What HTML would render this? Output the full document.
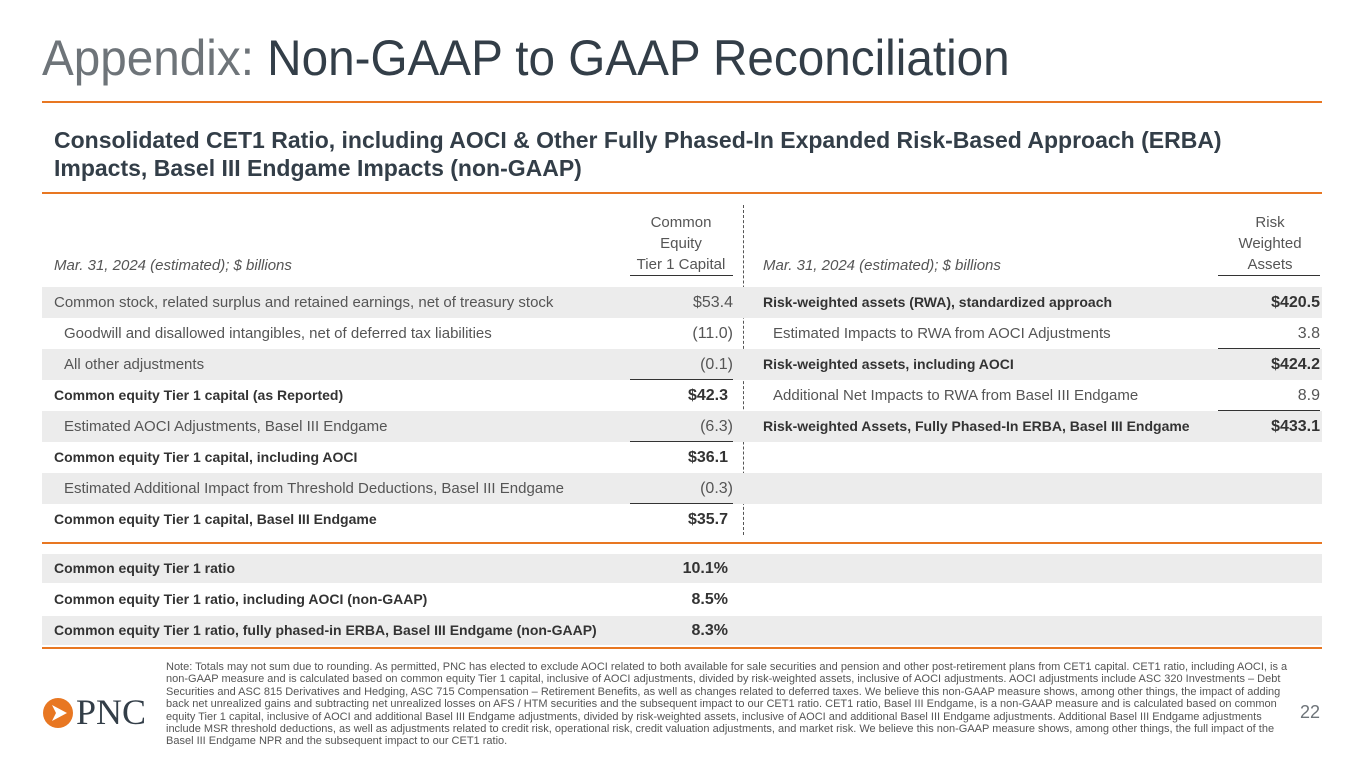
<!DOCTYPE html>
<html><head><meta charset="utf-8">
<style>
body{margin:0;width:1365px;height:768px;background:#fff;position:relative;overflow:hidden;font-family:"Liberation Sans",sans-serif;color:#555}
.a{position:absolute;white-space:nowrap}
.ol{position:absolute;left:42px;width:1280px;height:2px;background:#e87722}
.band{position:absolute;left:42px;width:1280px;height:31px;background:#ececec}
.row{position:absolute;height:31px;line-height:31px;font-size:15px}
.b{font-weight:bold;color:#333}
.row.b{font-size:14px}
.v{position:absolute;text-align:right;height:31px;line-height:31px;font-size:16px}
.rule{position:absolute;height:1px;background:#333}
</style></head><body>
<div class="a" style="left:42px;top:28px;font-size:50px;line-height:60px;color:#6e7479;transform:scaleX(0.953);transform-origin:left">Appendix: <span style="color:#333e48">Non-GAAP to GAAP Reconciliation</span></div>
<div class="ol" style="top:101px"></div>
<div class="a b" style="left:54px;top:126px;font-size:23px;line-height:28px;color:#333e48">Consolidated CET1 Ratio, including AOCI &amp; Other Fully Phased-In Expanded Risk-Based Approach (ERBA)<br>Impacts, Basel III Endgame Impacts (non-GAAP)</div>
<div class="ol" style="top:192px"></div>

<div class="a" style="left:54px;top:257px;font-size:15px;font-style:italic">Mar. 31, 2024 (estimated); $ billions</div>
<div class="a" style="left:620px;width:122px;top:212px;font-size:15px;line-height:21px;text-align:center">Common<br>Equity<br>Tier 1 Capital</div>
<div class="rule" style="left:630px;width:103px;top:275px"></div>
<div class="a" style="left:763px;top:257px;font-size:15px;font-style:italic">Mar. 31, 2024 (estimated); $ billions</div>
<div class="a" style="left:1210px;width:120px;top:212px;font-size:15px;line-height:21px;text-align:center">Risk<br>Weighted<br>Assets</div>
<div class="rule" style="left:1218px;width:102px;top:275px"></div>
<div class="a" style="left:743px;top:205px;height:330px;border-left:1px dashed #555"></div>

<div class="band" style="top:287px"></div>
<div class="band" style="top:349px"></div>
<div class="band" style="top:411px"></div>
<div class="band" style="top:473px"></div>

<div class="row" style="left:54px;top:287px">Common stock, related surplus and retained earnings, net of treasury stock</div>
<div class="v" style="left:620px;width:113px;top:287px">$53.4</div>
<div class="row" style="left:64px;top:318px">Goodwill and disallowed intangibles, net of deferred tax liabilities</div>
<div class="v" style="left:620px;width:113px;top:318px">(11.0)</div>
<div class="row" style="left:64px;top:349px">All other adjustments</div>
<div class="v" style="left:620px;width:113px;top:349px">(0.1)</div>
<div class="rule" style="left:630px;width:103px;top:379px"></div>
<div class="row b" style="left:54px;top:380px">Common equity Tier 1 capital (as Reported)</div>
<div class="v b" style="left:620px;width:108px;top:380px">$42.3</div>
<div class="row" style="left:64px;top:411px">Estimated AOCI Adjustments, Basel III Endgame</div>
<div class="v" style="left:620px;width:113px;top:411px">(6.3)</div>
<div class="rule" style="left:630px;width:103px;top:441px"></div>
<div class="row b" style="left:54px;top:442px">Common equity Tier 1 capital, including AOCI</div>
<div class="v b" style="left:620px;width:108px;top:442px">$36.1</div>
<div class="row" style="left:64px;top:473px">Estimated Additional Impact from Threshold Deductions, Basel III Endgame</div>
<div class="v" style="left:620px;width:113px;top:473px">(0.3)</div>
<div class="rule" style="left:630px;width:103px;top:503px"></div>
<div class="row b" style="left:54px;top:504px">Common equity Tier 1 capital, Basel III Endgame</div>
<div class="v b" style="left:620px;width:108px;top:504px">$35.7</div>

<div class="row b" style="left:763px;top:287px">Risk-weighted assets (RWA), standardized approach</div>
<div class="v b" style="left:1200px;width:120px;top:287px">$420.5</div>
<div class="row" style="left:773px;top:318px">Estimated Impacts to RWA from AOCI Adjustments</div>
<div class="v" style="left:1200px;width:120px;top:318px">3.8</div>
<div class="rule" style="left:1218px;width:102px;top:348px"></div>
<div class="row b" style="left:763px;top:349px">Risk-weighted assets, including AOCI</div>
<div class="v b" style="left:1200px;width:120px;top:349px">$424.2</div>
<div class="row" style="left:773px;top:380px">Additional Net Impacts to RWA from Basel III Endgame</div>
<div class="v" style="left:1200px;width:120px;top:380px">8.9</div>
<div class="rule" style="left:1218px;width:102px;top:410px"></div>
<div class="row b" style="left:763px;top:411px">Risk-weighted Assets, Fully Phased-In ERBA, Basel III Endgame</div>
<div class="v b" style="left:1200px;width:120px;top:411px">$433.1</div>

<div class="ol" style="top:542px"></div>
<div class="band" style="top:554px;height:29px"></div>
<div class="band" style="top:616px;height:29px"></div>
<div class="row b" style="left:54px;top:553px">Common equity Tier 1 ratio</div>
<div class="v b" style="left:620px;width:108px;top:553px">10.1%</div>
<div class="row b" style="left:54px;top:584px">Common equity Tier 1 ratio, including AOCI (non-GAAP)</div>
<div class="v b" style="left:620px;width:108px;top:584px">8.5%</div>
<div class="row b" style="left:54px;top:615px">Common equity Tier 1 ratio, fully phased-in ERBA, Basel III Endgame (non-GAAP)</div>
<div class="v b" style="left:620px;width:108px;top:615px">8.3%</div>
<div class="ol" style="top:647px"></div>

<svg class="a" style="left:42px;top:697px" width="32" height="32" viewBox="0 0 32 32"><circle cx="16" cy="16" r="15" fill="#e87722"/><path d="M10 8 L25 16 L10 24 L14 16Z" fill="#fff"/></svg>
<div class="a" style="left:76px;top:692px;font-family:'Liberation Serif',serif;font-size:36px;line-height:40px;color:#333e48">PNC</div>
<div class="a" style="left:166px;top:661px;width:1125px;white-space:normal;font-size:11px;line-height:12.4px;color:#555">Note: Totals may not sum due to rounding. As permitted, PNC has elected to exclude AOCI related to both available for sale securities and pension and other post-retirement plans from CET1 capital. CET1 ratio, including AOCI, is a non-GAAP measure and is calculated based on common equity Tier 1 capital, inclusive of AOCI adjustments, divided by risk-weighted assets, inclusive of AOCI adjustments. AOCI adjustments include ASC 320 Investments – Debt Securities and ASC 815 Derivatives and Hedging, ASC 715 Compensation – Retirement Benefits, as well as changes related to deferred taxes. We believe this non-GAAP measure shows, among other things, the impact of adding back net unrealized gains and subtracting net unrealized losses on AFS / HTM securities and the subsequent impact to our CET1 ratio. CET1 ratio, Basel III Endgame, is a non-GAAP measure and is calculated based on common equity Tier 1 capital, inclusive of AOCI and additional Basel III Endgame adjustments, divided by risk-weighted assets, inclusive of AOCI and additional Basel III Endgame adjustments. Additional Basel III Endgame adjustments include MSR threshold deductions, as well as adjustments related to credit risk, operational risk, credit valuation adjustments, and market risk. We believe this non-GAAP measure shows, among other things, the full impact of the Basel III Endgame NPR and the subsequent impact to our CET1 ratio.</div>
<div class="a" style="left:1300px;top:702px;font-size:18px;color:#6e7479">22</div>
</body></html>
